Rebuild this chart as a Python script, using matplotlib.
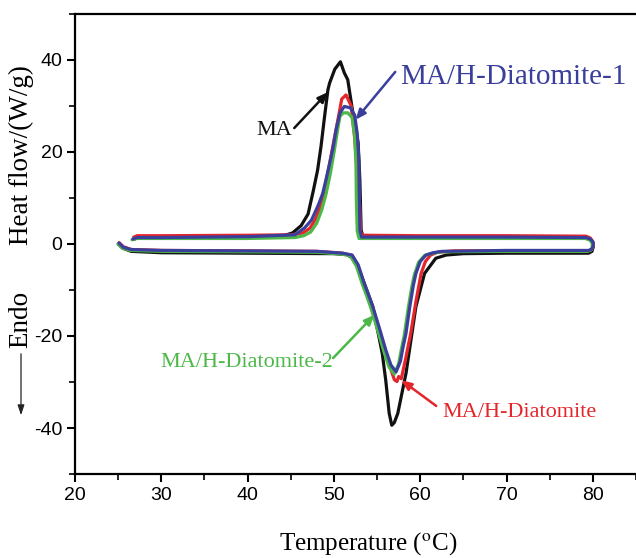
#!/usr/bin/env python3
"""DSC heating / cooling curves of MA and the MA/H-Diatomite composites."""

import matplotlib

matplotlib.use("Agg")
import matplotlib.pyplot as plt  # noqa: E402

# ---------------------------------------------------------------------------
# Data: one polyline per sample,
# heating run 25 -> 80 C (endo down) then cooling run 80 -> 27 C (exo up)
# ---------------------------------------------------------------------------

ma_t = [25.0, 25.5, 26.5, 30, 40, 50, 51.5, 52.1, 52.8, 53.5, 54.5, 55.6,
        56.0, 56.4, 56.7, 57.0, 57.4, 58.35, 59.5, 60.5, 61.8, 63.0, 65,
        70, 79.5, 79.9, 80.05, 80.0, 79.7, 79.2, 70, 60, 53.4, 53.15, 53.0,
        52.8, 52.5, 52.2, 51.6, 51.2, 50.75, 50.1, 49.5, 49.3, 48.9, 48.5,
        48.1, 47.6, 47.0, 46.2, 45.2, 44.0, 40, 30, 27.2, 26.8]
ma_hf = [0.0, -0.9, -1.6, -1.9, -2.0, -2.1, -2.3, -3.0, -5.0, -8.5, -13.6,
         -23.8, -29.6, -36.8, -39.4, -38.8, -36.8, -28.1, -13.6, -6.4, -3.1,
         -2.4, -2.1, -2.0, -2.0, -1.6, -0.6, 0.3, 1.0, 1.3, 1.3, 1.3, 1.4,
         3.0, 14.0, 22.0, 25.0, 28.4, 35.7, 37.2, 39.6, 38.0, 35.0, 33.5,
         27.5, 21.2, 16.0, 11.5, 6.5, 4.0, 2.4, 1.7, 1.5, 1.3, 1.3, 1.0]

comp_t = [25.1, 25.6, 26.5, 30, 40, 48, 51.0, 52.1, 52.8, 53.5, 54.0, 54.5,
          55.3, 56.0, 56.6, 57.0, 57.3, 57.5, 57.8, 58.3, 58.9, 59.5, 60.1,
          60.6, 61.2, 62.0, 64, 70, 79.5, 79.9, 80.05, 80.0, 79.7, 79.2, 70,
          60, 53.4, 53.1, 53.0, 52.75, 52.4, 52.0, 51.4, 50.9, 50.6, 50.2,
          49.7, 49.3, 48.9, 48.4, 47.8, 47.2, 46.4, 45, 40, 30, 27.2, 26.8]
comp_hf = [0.3, -0.6, -1.2, -1.4, -1.5, -1.6, -2.0, -2.5, -4.8, -8.8, -11.3,
           -14.0, -19.0, -23.5, -27.3, -29.5, -29.9, -28.8, -29.3, -25.0,
           -19.4, -12.5, -6.4, -3.8, -2.4, -1.8, -1.5, -1.5, -1.5, -1.2,
           -0.4, 0.5, 1.3, 1.7, 1.8, 1.8, 1.9, 2.4, 8.0, 13.9, 23.0, 30.0,
           32.4, 31.5, 28.4, 24.5, 19.5, 15.5, 11.7, 8.0, 5.2, 3.4, 2.4, 2.0,
           1.9, 1.8, 1.8, 1.5]

comp1_t = [25.1, 25.6, 26.5, 30, 40, 48, 51.0, 52.1, 52.8, 53.5, 54.0, 54.5,
           55.3, 56.0, 56.6, 57.2, 57.7, 58.0, 58.35, 58.8, 59.2, 59.5, 60.0,
           60.66, 61.5, 62.5, 70, 79.5, 79.9, 80.05, 80.0, 79.7, 79.2, 70, 60,
           53.2, 53.0, 52.95, 52.9, 52.7, 52.4, 51.9, 51.2, 50.7, 50.25, 49.9,
           49.5, 49.1, 48.7, 48.3, 48.1, 47.4, 46.6, 45.5, 40, 30, 27.2, 26.7]
comp1_hf = [0.2, -0.7, -1.2, -1.4, -1.5, -1.6, -2.0, -2.4, -4.5, -8.5, -11.0,
            -13.6, -18.5, -23.0, -26.3, -27.8, -25.5, -22.5, -19.4, -13.5,
            -9.0, -6.4, -3.8, -2.4, -1.9, -1.6, -1.4, -1.4, -1.1, -0.3, 0.5,
            1.1, 1.4, 1.5, 1.5, 1.5, 3.0, 10.0, 18.0, 24.0, 28.0, 29.6, 29.9,
            28.5, 24.8, 21.0, 17.5, 14.2, 11.0, 9.0, 8.1, 5.2, 3.5, 2.0, 1.6,
            1.4, 1.4, 1.1]

comp2_t = [25.0, 25.5, 26.4, 30, 40, 48, 50.9, 51.9, 52.6, 53.3, 53.8, 54.3,
           55.1, 55.8, 56.4, 57.0, 57.5, 57.8, 58.15, 58.6, 59.0, 59.3, 59.8,
           60.5, 61.4, 62.5, 70, 79.4, 79.8, 79.95, 79.9, 79.6, 79.1, 70, 60,
           52.9, 52.7, 52.6, 52.55, 52.4, 52.1, 51.6, 51.1, 50.7, 50.4, 50.05,
           49.6, 49.1, 48.6, 48.0, 47.3, 46.5, 45.5, 40, 30, 27.1, 26.6]
comp2_hf = [0.0, -0.9, -1.4, -1.6, -1.7, -1.8, -2.2, -2.6, -4.8, -8.8, -11.3,
            -14.0, -19.0, -23.5, -26.8, -28.3, -26.0, -23.0, -19.8, -14.0,
            -9.5, -6.8, -4.0, -2.5, -2.0, -1.7, -1.6, -1.6, -1.3, -0.5, 0.3,
            0.9, 1.2, 1.2, 1.2, 1.2, 2.8, 9.5, 17.5, 23.5, 27.5, 28.5, 28.5,
            27.8, 24.5, 20.4, 15.5, 11.0, 7.5, 4.5, 2.6, 1.8, 1.4, 1.2, 1.2,
            1.2, 0.9]

SERIES = [
    ("MA", ma_t, ma_hf, "#111111"),
    ("MA/H-Diatomite", comp_t, comp_hf, "#e4262b"),
    ("MA/H-Diatomite-2", comp2_t, comp2_hf, "#4cb848"),
    ("MA/H-Diatomite-1", comp1_t, comp1_hf, "#3b3f9c"),
]

x_ticks = [20, 30, 40, 50, 60, 70, 80]
y_ticks = [-40, -20, 0, 20, 40]

# ---------------------------------------------------------------------------
# Figure
# ---------------------------------------------------------------------------

plt.rcParams["mathtext.fontset"] = "stix"
plt.rcParams["axes.unicode_minus"] = False
SERIF = "Liberation Serif"
SANS = "Liberation Sans"

fig = plt.figure(figsize=(6.36, 5.58), dpi=100)
ax = fig.add_axes([0.118, 0.1505, 0.882, 0.8245])

for name, t, hf, color in SERIES:
    ax.plot(t, hf, color=color, lw=2.3, solid_capstyle="round",
            solid_joinstyle="round")

ax.set_xlim(20, 85)
ax.set_ylim(-50, 50)
ax.set_xticks(x_ticks)
ax.set_yticks(y_ticks)
ax.set_xticks([25, 35, 45, 55, 65, 75, 85], minor=True)
ax.set_yticks([-50, -30, -10, 10, 30, 50], minor=True)
ax.tick_params(which="major", direction="out", length=6, width=1.5,
               labelsize=14, pad=3, top=False, right=False)
ax.tick_params(which="minor", direction="out", length=4, width=1.2,
               top=False, right=False)
for lab in ax.get_xticklabels() + ax.get_yticklabels():
    lab.set_fontfamily(SANS)
for side in ("left", "bottom", "top"):
    ax.spines[side].set_linewidth(1.6)
ax.spines["right"].set_visible(False)

# axis titles
fig.text(0.579, 0.025, r"Temperature ($^{\mathrm{o}}$C)", family=SERIF,
         fontsize=18, ha="center", va="center")
fig.text(0.033, 0.722, "Heat flow/(W/g)", family=SERIF, fontsize=19.5,
         rotation=90, ha="center", va="center")
fig.text(0.033, 0.427, "Endo", family=SERIF, fontsize=19.5,
         rotation=90, ha="center", va="center")
ax.annotate("", xy=(21, 140), xytext=(21, 207), xycoords="figure pixels",
            textcoords="figure pixels",
            arrowprops=dict(arrowstyle="-|>,head_length=0.6,head_width=0.2",
                            color="#222222", lw=0.9))

# curve labels with pointer arrows
labels = [
    ("MA", (43.1, 24.6), "center", 16, (45.4, 25.2), (49.3, 33.0),
     "#111111"),
    ("MA/H-Diatomite-1", (57.7, 36.3), "left", 21, (57.1, 37.4),
     (52.5, 27.0), "#3b3f9c"),
    ("MA/H-Diatomite-2", (39.9, -25.7), "center", 16, (49.9, -24.8),
     (54.7, -15.4), "#4cb848"),
    ("MA/H-Diatomite", (62.6, -36.7), "left", 16, (61.85, -35.2),
     (57.8, -29.6), "#e4262b"),
]
for text, pos, ha, size, tail, tip, color in labels:
    ax.text(pos[0], pos[1], text, color=color, family=SERIF, fontsize=size,
            ha=ha, va="center")
    ax.annotate("", xy=tip, xytext=tail,
                arrowprops=dict(arrowstyle="-|>,head_length=0.6,head_width=0.25",
                                color=color, lw=1.8, shrinkA=0, shrinkB=0))

fig.savefig("out.png", dpi=100)
plt.close(fig)
